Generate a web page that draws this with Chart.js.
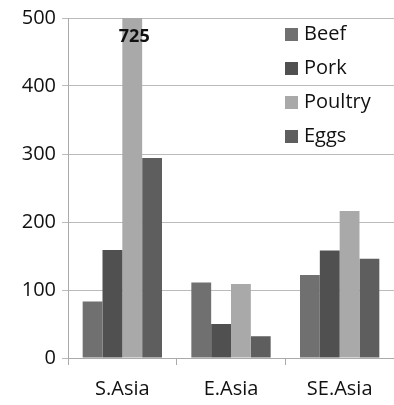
<!DOCTYPE html>
<html>
<head>
<meta charset="utf-8">
<script src="https://cdn.jsdelivr.net/npm/chart.js@4"></script>
<style>
  html, body { margin: 0; padding: 0; background: #fff; }
  #wrap { width: 394px; height: 405px; }
</style>
</head>
<body>
<div id="wrap"><canvas id="c"></canvas></div>
<script>
// data
var regions = ['S.Asia', 'E.Asia', 'SE.Asia'];
var beef = [83, 111, 122];
var pork = [159, 50, 158];
var poultry = [725, 109, 216];
var eggs = [294, 32, 146];
var yTicks = [0, 100, 200, 300, 400, 500];

var font = '"Open Sans", "Liberation Sans", sans-serif';

// legend and the 725 label drawn over the plot
var overlay = {
  id: 'overlay',
  afterDatasetsDraw: function(chart) {
    var ctx = chart.ctx;
    var area = chart.chartArea;
    ctx.save();
    // clipped bar value
    var bar = chart.getDatasetMeta(2).data[0];
    ctx.font = 'bold 18px ' + font;
    ctx.fillStyle = '#111';
    ctx.textAlign = 'center';
    ctx.textBaseline = 'middle';
    ctx.fillText(String(poultry[0]), bar.x + 2, area.top + 19);
    // legend
    ctx.font = '20px ' + font;
    ctx.textAlign = 'left';
    chart.data.datasets.forEach(function(ds, i) {
      var y = area.top + 16 + i * 34;
      ctx.fillStyle = ds.backgroundColor;
      ctx.fillRect(285, y - 6, 13, 13);
      ctx.fillStyle = '#111';
      ctx.fillText(ds.label, 304, y);
    });
    ctx.restore();
  }
};

new Chart(document.getElementById('c'), {
  type: 'bar',
  data: {
    labels: regions,
    datasets: [
      { label: 'Beef', data: beef, backgroundColor: '#707070' },
      { label: 'Pork', data: pork, backgroundColor: '#505050' },
      { label: 'Poultry', data: poultry, backgroundColor: '#a9a9a9' },
      { label: 'Eggs', data: eggs, backgroundColor: '#5e5e5e' }
    ]
  },
  options: {
    responsive: true,
    maintainAspectRatio: false,
    animation: false,
    layout: { padding: { top: 18, right: 0, left: 0, bottom: 0 } },
    datasets: { bar: { categoryPercentage: 0.73, barPercentage: 1 } },
    plugins: { legend: { display: false }, tooltip: { enabled: false } },
    scales: {
      x: {
        grid: { display: true, drawOnChartArea: false, offset: true, tickLength: 7, color: '#aaa' },
        border: { color: '#aaa' },
        ticks: { color: '#111', font: { family: font, size: 20 }, padding: 12 },
        afterFit: function(s) { s.height = 47; }
      },
      y: {
        min: 0,
        max: 500,
        afterBuildTicks: function(s) { s.ticks = yTicks.map(function(v) { return { value: v }; }); },
        grid: { color: '#bbb', tickLength: 6 },
        border: { color: '#aaa' },
        ticks: { color: '#111', font: { family: font, size: 20 }, padding: 6 },
        afterFit: function(s) { s.width = 68; }
      }
    }
  },
  plugins: [overlay]
});
</script>
</body>
</html>
